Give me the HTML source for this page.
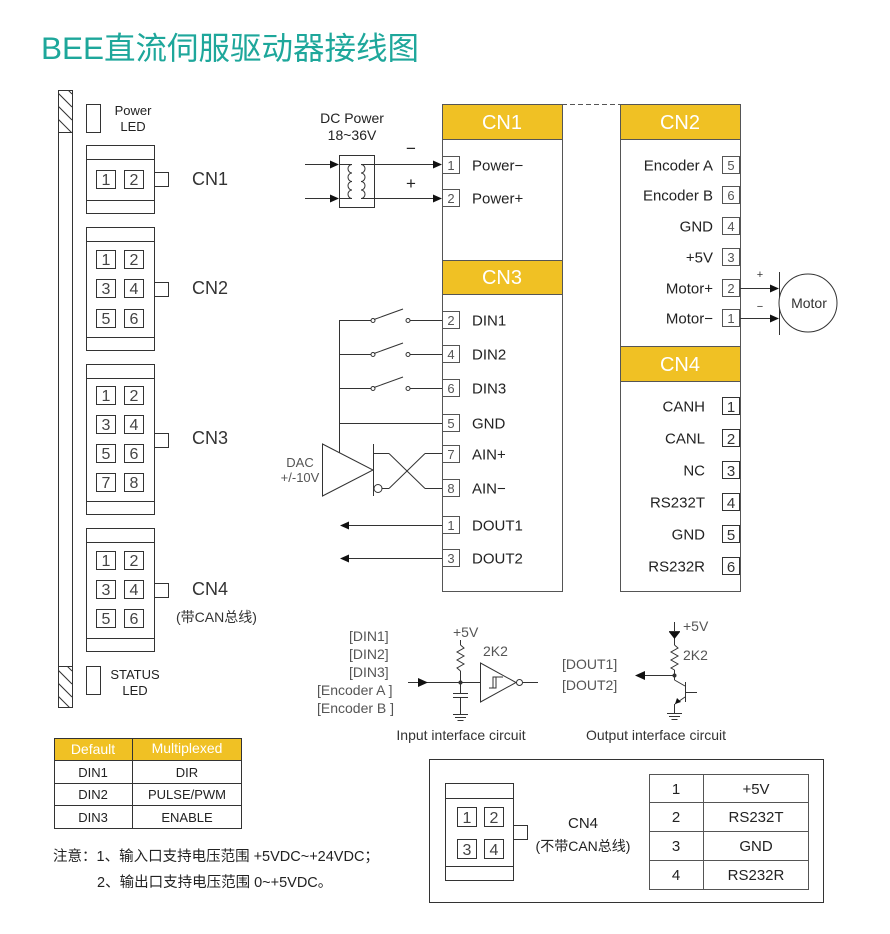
<!DOCTYPE html>
<html><head><meta charset="utf-8"><style>
html,body{margin:0;padding:0;background:#fff;}
svg{display:block;}
text{font-family:"Liberation Sans","Noto Sans CJK SC",sans-serif;}
</style></head><body>
<svg width="890" height="934" viewBox="0 0 890 934" xmlns="http://www.w3.org/2000/svg">
<rect width="890" height="934" fill="#fff"/>
<defs>
<clipPath id="h1"><rect x="58.5" y="90.5" width="14" height="42"/></clipPath>
<clipPath id="h2"><rect x="58.5" y="666.5" width="14" height="41"/></clipPath>
</defs>

<!-- Title -->
<text x="41" y="59" font-size="31.5" fill="#1ea79b">BEE直流伺服驱动器接线图</text>

<!-- Left rail -->
<g stroke="#333" stroke-width="1" fill="none">
<rect x="58.5" y="90.5" width="14" height="617"/>
<line x1="58" y1="132.5" x2="72" y2="132.5"/>
<line x1="58" y1="666.5" x2="72" y2="666.5"/>
</g>
<g clip-path="url(#h1)" stroke="#333">
<line x1="58" y1="80" x2="72" y2="94"/><line x1="58" y1="93" x2="72" y2="107"/><line x1="58" y1="106" x2="72" y2="120"/><line x1="58" y1="119" x2="72" y2="133"/>
</g>
<g clip-path="url(#h2)" stroke="#333">
<line x1="58" y1="657" x2="72" y2="671"/><line x1="58" y1="670" x2="72" y2="684"/><line x1="58" y1="683" x2="72" y2="697"/><line x1="58" y1="696" x2="72" y2="710"/>
</g>

<!-- LEDs -->
<g stroke="#333" fill="none">
<rect x="86.5" y="104.5" width="14" height="28"/>
<rect x="86.5" y="666.5" width="14" height="28"/>
</g>
<g font-size="13" fill="#222" text-anchor="middle">
<text x="133" y="115">Power</text><text x="133" y="131">LED</text>
<text x="135" y="679">STATUS</text><text x="135" y="695">LED</text>
</g>

<!-- Left connectors -->
<g stroke="#333" fill="none">
<!-- CN1 -->
<rect x="86.5" y="145.5" width="68" height="68"/>
<line x1="86" y1="159.5" x2="154" y2="159.5"/><line x1="86" y1="200.5" x2="154" y2="200.5"/>
<rect x="154.5" y="172.5" width="14" height="14"/>
<rect x="96.5" y="170.5" width="19" height="18"/><rect x="124.5" y="170.5" width="19" height="18"/>
<!-- CN2 -->
<rect x="86.5" y="227.5" width="68" height="123"/>
<line x1="86" y1="241.5" x2="154" y2="241.5"/><line x1="86" y1="337.5" x2="154" y2="337.5"/>
<rect x="154.5" y="282.5" width="14" height="14"/>
<rect x="96.5" y="250.5" width="19" height="18"/><rect x="124.5" y="250.5" width="19" height="18"/>
<rect x="96.5" y="279.5" width="19" height="18"/><rect x="124.5" y="279.5" width="19" height="18"/>
<rect x="96.5" y="309.5" width="19" height="18"/><rect x="124.5" y="309.5" width="19" height="18"/>
<!-- CN3 -->
<rect x="86.5" y="364.5" width="68" height="150"/>
<line x1="86" y1="378.5" x2="154" y2="378.5"/><line x1="86" y1="501.5" x2="154" y2="501.5"/>
<rect x="154.5" y="433.5" width="14" height="14"/>
<rect x="96.5" y="386.5" width="19" height="18"/><rect x="124.5" y="386.5" width="19" height="18"/>
<rect x="96.5" y="415.5" width="19" height="18"/><rect x="124.5" y="415.5" width="19" height="18"/>
<rect x="96.5" y="444.5" width="19" height="18"/><rect x="124.5" y="444.5" width="19" height="18"/>
<rect x="96.5" y="473.5" width="19" height="18"/><rect x="124.5" y="473.5" width="19" height="18"/>
<!-- CN4 -->
<rect x="86.5" y="528.5" width="68" height="123"/>
<line x1="86" y1="542.5" x2="154" y2="542.5"/><line x1="86" y1="638.5" x2="154" y2="638.5"/>
<rect x="154.5" y="583.5" width="14" height="14"/>
<rect x="96.5" y="551.5" width="19" height="18"/><rect x="124.5" y="551.5" width="19" height="18"/>
<rect x="96.5" y="580.5" width="19" height="18"/><rect x="124.5" y="580.5" width="19" height="18"/>
<rect x="96.5" y="609.5" width="19" height="18"/><rect x="124.5" y="609.5" width="19" height="18"/>
</g>
<g font-size="16" fill="#444" text-anchor="middle">
<text x="106" y="185">1</text><text x="134" y="185">2</text>
<text x="106" y="265">1</text><text x="134" y="265">2</text>
<text x="106" y="294">3</text><text x="134" y="294">4</text>
<text x="106" y="324">5</text><text x="134" y="324">6</text>
<text x="106" y="401">1</text><text x="134" y="401">2</text>
<text x="106" y="430">3</text><text x="134" y="430">4</text>
<text x="106" y="459">5</text><text x="134" y="459">6</text>
<text x="106" y="488">7</text><text x="134" y="488">8</text>
<text x="106" y="566">1</text><text x="134" y="566">2</text>
<text x="106" y="595">3</text><text x="134" y="595">4</text>
<text x="106" y="624">5</text><text x="134" y="624">6</text>
</g>
<g font-size="18" fill="#333">
<text x="192" y="185">CN1</text>
<text x="192" y="294">CN2</text>
<text x="192" y="444">CN3</text>
<text x="192" y="595">CN4</text>
</g>
<text x="176" y="622" font-size="14" fill="#333">(带CAN总线)</text>

<!-- Main box CN1/CN3 -->
<rect x="442.5" y="104.5" width="120" height="487" fill="#fff" stroke="#555"/>
<rect x="442.5" y="104.5" width="120" height="35" fill="#f0c124" stroke="#555"/>
<rect x="442.5" y="260.5" width="120" height="34" fill="#f0c124" stroke="#555"/>
<text x="502" y="129" font-size="20" fill="#fff" text-anchor="middle">CN1</text>
<text x="502" y="284" font-size="20" fill="#fff" text-anchor="middle">CN3</text>

<!-- Main box CN2/CN4 -->
<rect x="620.5" y="104.5" width="120" height="487" fill="#fff" stroke="#555"/>
<rect x="620.5" y="104.5" width="120" height="35" fill="#f0c124" stroke="#555"/>
<rect x="620.5" y="346.5" width="120" height="35" fill="#f0c124" stroke="#555"/>
<text x="680" y="129" font-size="20" fill="#fff" text-anchor="middle">CN2</text>
<text x="680" y="371" font-size="20" fill="#fff" text-anchor="middle">CN4</text>

<!-- dashed link -->
<line x1="562" y1="104.5" x2="620" y2="104.5" stroke="#555" stroke-dasharray="5,3"/>

<!-- CN1 pins -->
<g stroke="#555" fill="#fff">
<rect x="442.5" y="156.5" width="17" height="17"/>
<rect x="442.5" y="189.5" width="17" height="17"/>
</g>
<g font-size="13" fill="#555" text-anchor="middle">
<text x="451" y="170">1</text><text x="451" y="203">2</text>
</g>
<g font-size="15" fill="#222">
<text x="472" y="170.5">Power−</text>
<text x="472" y="203.5">Power+</text>
</g>

<!-- DC Power -->
<g font-size="14" fill="#222" text-anchor="middle">
<text x="352" y="123">DC Power</text>
<text x="352" y="140">18~36V</text>
</g>
<g stroke="#333" fill="none">
<rect x="339.5" y="155.5" width="35" height="52"/>
<line x1="305" y1="164.5" x2="332" y2="164.5"/>
<line x1="305" y1="198.5" x2="332" y2="198.5"/>
<line x1="339" y1="164.5" x2="352" y2="164.5"/>
<line x1="339" y1="198.5" x2="352" y2="198.5"/>
<path d="M352,164.5 a4,4.25 0 0 0 0,8.5 a4,4.25 0 0 0 0,8.5 a4,4.25 0 0 0 0,8.5 a4,4.25 0 0 0 0,8.5"/>
<path d="M361,164.5 a4,4.25 0 0 1 0,8.5 a4,4.25 0 0 1 0,8.5 a4,4.25 0 0 1 0,8.5 a4,4.25 0 0 1 0,8.5"/>
<line x1="361" y1="164.5" x2="435" y2="164.5"/>
<line x1="361" y1="198.5" x2="435" y2="198.5"/>
</g>
<g fill="#111">
<polygon points="339,164.5 330,160.5 330,168.5"/>
<polygon points="339,198.5 330,194.5 330,202.5"/>
<polygon points="442,164.5 433,160.5 433,168.5"/>
<polygon points="442,198.5 433,194.5 433,202.5"/>
</g>
<text x="411" y="154" font-size="17" fill="#222" text-anchor="middle">−</text>
<text x="411" y="189" font-size="17" fill="#222" text-anchor="middle">+</text>

<!-- CN3 pins -->
<g stroke="#555" fill="#fff">
<rect x="442.5" y="311.5" width="17" height="17"/>
<rect x="442.5" y="345.5" width="17" height="17"/>
<rect x="442.5" y="379.5" width="17" height="17"/>
<rect x="442.5" y="414.5" width="17" height="17"/>
<rect x="442.5" y="445.5" width="17" height="17"/>
<rect x="442.5" y="479.5" width="17" height="17"/>
<rect x="442.5" y="516.5" width="17" height="17"/>
<rect x="442.5" y="549.5" width="17" height="17"/>
</g>
<g font-size="13" fill="#555" text-anchor="middle">
<text x="451" y="325">2</text>
<text x="451" y="359">4</text>
<text x="451" y="393">6</text>
<text x="451" y="428">5</text>
<text x="451" y="459">7</text>
<text x="451" y="493">8</text>
<text x="451" y="530">1</text>
<text x="451" y="563">3</text>
</g>
<g font-size="15" fill="#222">
<text x="472" y="325.5">DIN1</text>
<text x="472" y="359.5">DIN2</text>
<text x="472" y="393.5">DIN3</text>
<text x="472" y="428.5">GND</text>
<text x="472" y="459.5">AIN+</text>
<text x="472" y="493.5">AIN−</text>
<text x="472" y="530.5">DOUT1</text>
<text x="472" y="563.5">DOUT2</text>
</g>

<!-- switches & wiring -->
<g stroke="#333" fill="none">
<line x1="339.5" y1="320" x2="339.5" y2="453"/>
<line x1="339" y1="320.5" x2="371" y2="320.5"/>
<line x1="339" y1="354.5" x2="371" y2="354.5"/>
<line x1="339" y1="388.5" x2="371" y2="388.5"/>
<line x1="374" y1="319.5" x2="403" y2="309"/>
<line x1="374" y1="353.5" x2="403" y2="343"/>
<line x1="374" y1="387.5" x2="403" y2="377"/>
<line x1="410" y1="320.5" x2="442" y2="320.5"/>
<line x1="410" y1="354.5" x2="442" y2="354.5"/>
<line x1="410" y1="388.5" x2="442" y2="388.5"/>
<circle cx="373" cy="320.5" r="2"/>
<circle cx="373" cy="354.5" r="2"/>
<circle cx="373" cy="388.5" r="2"/>
<circle cx="408" cy="320.5" r="2"/>
<circle cx="408" cy="354.5" r="2"/>
<circle cx="408" cy="388.5" r="2"/>
<line x1="339" y1="423.5" x2="442" y2="423.5"/>
<!-- DAC -->
<polygon points="322.5,444 322.5,496 373,470"/>
<line x1="373.5" y1="444" x2="373.5" y2="496"/>
<line x1="373" y1="453.5" x2="389" y2="453.5"/>
<circle cx="378" cy="488.5" r="4"/>
<line x1="382" y1="488.5" x2="389" y2="488.5"/>
<path d="M389,453.5 L425,488.5"/>
<path d="M389,488.5 L425,453.5"/>
<line x1="425" y1="453.5" x2="442" y2="453.5"/>
<line x1="425" y1="488.5" x2="442" y2="488.5"/>
<!-- DOUT arrows -->
<line x1="348" y1="525.5" x2="442" y2="525.5"/>
<line x1="348" y1="558.5" x2="442" y2="558.5"/>
</g>
<g fill="#111">
<polygon points="340,525.5 349,521.5 349,529.5"/>
<polygon points="340,558.5 349,554.5 349,562.5"/>
</g>
<g font-size="13" fill="#555" text-anchor="middle">
<text x="300" y="467">DAC</text>
<text x="300" y="482">+/-10V</text>
</g>

<!-- CN2 pins -->
<g stroke="#555" fill="#fff">
<rect x="722.5" y="156.5" width="17" height="17"/>
<rect x="722.5" y="186.5" width="17" height="17"/>
<rect x="722.5" y="217.5" width="17" height="17"/>
<rect x="722.5" y="248.5" width="17" height="17"/>
<rect x="722.5" y="279.5" width="17" height="17"/>
<rect x="722.5" y="309.5" width="17" height="17"/>
</g>
<g font-size="13" fill="#555" text-anchor="middle">
<text x="731" y="170">5</text>
<text x="731" y="200">6</text>
<text x="731" y="231">4</text>
<text x="731" y="262">3</text>
<text x="731" y="293">2</text>
<text x="731" y="323">1</text>
</g>
<g font-size="15" fill="#222" text-anchor="end">
<text x="713" y="170.5">Encoder A</text>
<text x="713" y="200.5">Encoder B</text>
<text x="713" y="231.5">GND</text>
<text x="713" y="262.5">+5V</text>
<text x="713" y="293.5">Motor+</text>
<text x="713" y="323.5">Motor−</text>
</g>

<!-- Motor -->
<g stroke="#333" fill="none">
<line x1="740" y1="288.5" x2="771" y2="288.5"/>
<line x1="740" y1="318.5" x2="771" y2="318.5"/>
<line x1="779.5" y1="272" x2="779.5" y2="335"/>
<circle cx="808" cy="303" r="29" fill="#fff"/>
</g>
<g fill="#111">
<polygon points="779,288.5 770,284.5 770,292.5"/>
<polygon points="779,318.5 770,314.5 770,322.5"/>
</g>
<text x="760" y="278" font-size="11" fill="#333" text-anchor="middle">+</text>
<text x="760" y="310" font-size="11" fill="#333" text-anchor="middle">−</text>
<text x="809" y="308" font-size="14" fill="#333" text-anchor="middle">Motor</text>

<!-- CN4 pins -->
<g stroke="#333" fill="#fff">
<rect x="722.5" y="397.5" width="17" height="17"/>
<rect x="722.5" y="429.5" width="17" height="17"/>
<rect x="722.5" y="461.5" width="17" height="17"/>
<rect x="722.5" y="493.5" width="17" height="17"/>
<rect x="722.5" y="525.5" width="17" height="17"/>
<rect x="722.5" y="557.5" width="17" height="17"/>
</g>
<g font-size="15" fill="#333" text-anchor="middle">
<text x="731" y="412">1</text>
<text x="731" y="444">2</text>
<text x="731" y="476">3</text>
<text x="731" y="508">4</text>
<text x="731" y="540">5</text>
<text x="731" y="572">6</text>
</g>
<g font-size="15" fill="#222" text-anchor="end">
<text x="705" y="411.5">CANH</text>
<text x="705" y="443.5">CANL</text>
<text x="705" y="475.5">NC</text>
<text x="705" y="507.5">RS232T</text>
<text x="705" y="539.5">GND</text>
<text x="705" y="571.5">RS232R</text>
</g>

<!-- Input interface circuit -->
<g font-size="14" fill="#555">
<text x="349" y="641">[DIN1]</text>
<text x="349" y="659">[DIN2]</text>
<text x="349" y="677">[DIN3]</text>
<text x="317" y="695">[Encoder A ]</text>
<text x="317" y="713">[Encoder B ]</text>
<text x="453" y="637">+5V</text>
<text x="483" y="656">2K2</text>
</g>
<g stroke="#333" fill="none">
<line x1="408" y1="682.5" x2="480" y2="682.5"/>
<line x1="460.5" y1="640" x2="460.5" y2="645"/>
<polyline points="460.5,645 464,648 457,652 464,656 457,660 464,664 457,668 460.5,671"/>
<line x1="460.5" y1="671" x2="460.5" y2="693"/>
<line x1="453" y1="693.5" x2="468" y2="693.5"/>
<line x1="453" y1="697.5" x2="468" y2="697.5"/>
<line x1="460.5" y1="698" x2="460.5" y2="714"/>
<line x1="453" y1="714.5" x2="468" y2="714.5"/>
<line x1="455" y1="717.5" x2="466" y2="717.5"/>
<line x1="457.5" y1="720.5" x2="463.5" y2="720.5"/>
<polygon points="480.5,663 480.5,702 516,682.5"/>
<circle cx="519.5" cy="682.5" r="3"/>
<line x1="523" y1="682.5" x2="538" y2="682.5"/>
<path d="M489,688 H496 V677 H503 M493,688 V677 H500"/>
</g>
<polygon points="428,682.5 418,678 418,687" fill="#111"/>
<circle cx="460.5" cy="682.5" r="2" fill="#333"/>
<text x="461" y="740" font-size="14" fill="#333" text-anchor="middle">Input interface circuit</text>

<!-- Output interface circuit -->
<g font-size="14" fill="#555">
<text x="562" y="669">[DOUT1]</text>
<text x="562" y="690">[DOUT2]</text>
<text x="683" y="631">+5V</text>
<text x="683" y="660">2K2</text>
</g>
<g stroke="#333" fill="none">
<line x1="674.5" y1="622" x2="674.5" y2="645"/>
<line x1="669" y1="631.5" x2="680" y2="631.5"/>
<polyline points="674.5,645 678,648 671,652 678,656 671,660 678,664 671,668 674.5,670"/>
<line x1="674.5" y1="670" x2="674.5" y2="680"/>
<line x1="640" y1="675.5" x2="674" y2="675.5"/>
<line x1="674.5" y1="680" x2="685" y2="686"/>
<line x1="685.5" y1="682" x2="685.5" y2="702"/>
<line x1="685" y1="692.5" x2="697" y2="692.5"/>
<line x1="685" y1="697" x2="675" y2="704"/>
<line x1="674.5" y1="704" x2="674.5" y2="713"/>
<line x1="667" y1="713.5" x2="682" y2="713.5"/>
<line x1="669" y1="716.5" x2="680" y2="716.5"/>
<line x1="671.5" y1="719.5" x2="677.5" y2="719.5"/>
</g>
<polygon points="669,632 680,632 674.5,639" fill="#111"/>
<polygon points="635,675.5 645,671 645,680" fill="#111"/>
<polygon points="675,704 677,698 681,702" fill="#111"/>
<circle cx="674.5" cy="675.5" r="2" fill="#333"/>
<text x="656" y="740" font-size="14" fill="#333" text-anchor="middle">Output interface circuit</text>

<!-- Default / Multiplexed table -->
<rect x="54.5" y="738.5" width="187" height="22" fill="#f0c124"/>
<g stroke="#333" fill="none">
<rect x="54.5" y="738.5" width="187" height="90"/>
<line x1="54" y1="760.5" x2="241" y2="760.5"/>
<line x1="54" y1="783.5" x2="241" y2="783.5"/>
<line x1="54" y1="805.5" x2="241" y2="805.5"/>
<line x1="132.5" y1="738" x2="132.5" y2="828"/>
</g>
<g font-size="14" fill="#fff" text-anchor="middle">
<text x="93" y="754">Default</text>
<text x="187" y="753">Multiplexed</text>
</g>
<g font-size="13" fill="#222" text-anchor="middle">
<text x="93" y="777">DIN1</text><text x="187" y="777">DIR</text>
<text x="93" y="799">DIN2</text><text x="187" y="799">PULSE/PWM</text>
<text x="93" y="822">DIN3</text><text x="187" y="822">ENABLE</text>
</g>

<!-- Notes -->
<g font-size="14.5" fill="#222">
<text x="53" y="861">注意：1、输入口支持电压范围 +5VDC~+24VDC；</text>
<text x="97" y="887">2、输出口支持电压范围 0~+5VDC。</text>
</g>

<!-- Bottom right box -->
<g stroke="#333" fill="none">
<rect x="429.5" y="759.5" width="394" height="143"/>
<rect x="445.5" y="783.5" width="68" height="97"/>
<line x1="445" y1="798.5" x2="513" y2="798.5"/>
<line x1="445" y1="866.5" x2="513" y2="866.5"/>
<rect x="513.5" y="825.5" width="14" height="14"/>
<rect x="457.5" y="807.5" width="19" height="19"/>
<rect x="484.5" y="807.5" width="19" height="19"/>
<rect x="457.5" y="839.5" width="19" height="19"/>
<rect x="484.5" y="839.5" width="19" height="19"/>
<rect x="649.5" y="774.5" width="159" height="115" stroke="#555"/>
<line x1="649" y1="802.5" x2="808" y2="802.5" stroke="#555"/>
<line x1="649" y1="831.5" x2="808" y2="831.5" stroke="#555"/>
<line x1="649" y1="860.5" x2="808" y2="860.5" stroke="#555"/>
<line x1="703.5" y1="774" x2="703.5" y2="889" stroke="#555"/>
</g>
<g font-size="16" fill="#444" text-anchor="middle">
<text x="467" y="823">1</text><text x="494" y="823">2</text>
<text x="467" y="855">3</text><text x="494" y="855">4</text>
</g>
<text x="583" y="828" font-size="15" fill="#222" text-anchor="middle">CN4</text>
<text x="583" y="851" font-size="14" fill="#222" text-anchor="middle">(不带CAN总线)</text>
<g font-size="15" fill="#222" text-anchor="middle">
<text x="676" y="794">1</text><text x="756" y="794">+5V</text>
<text x="676" y="822">2</text><text x="756" y="822">RS232T</text>
<text x="676" y="851">3</text><text x="756" y="851">GND</text>
<text x="676" y="880">4</text><text x="756" y="880">RS232R</text>
</g>
</svg>
</body></html>
